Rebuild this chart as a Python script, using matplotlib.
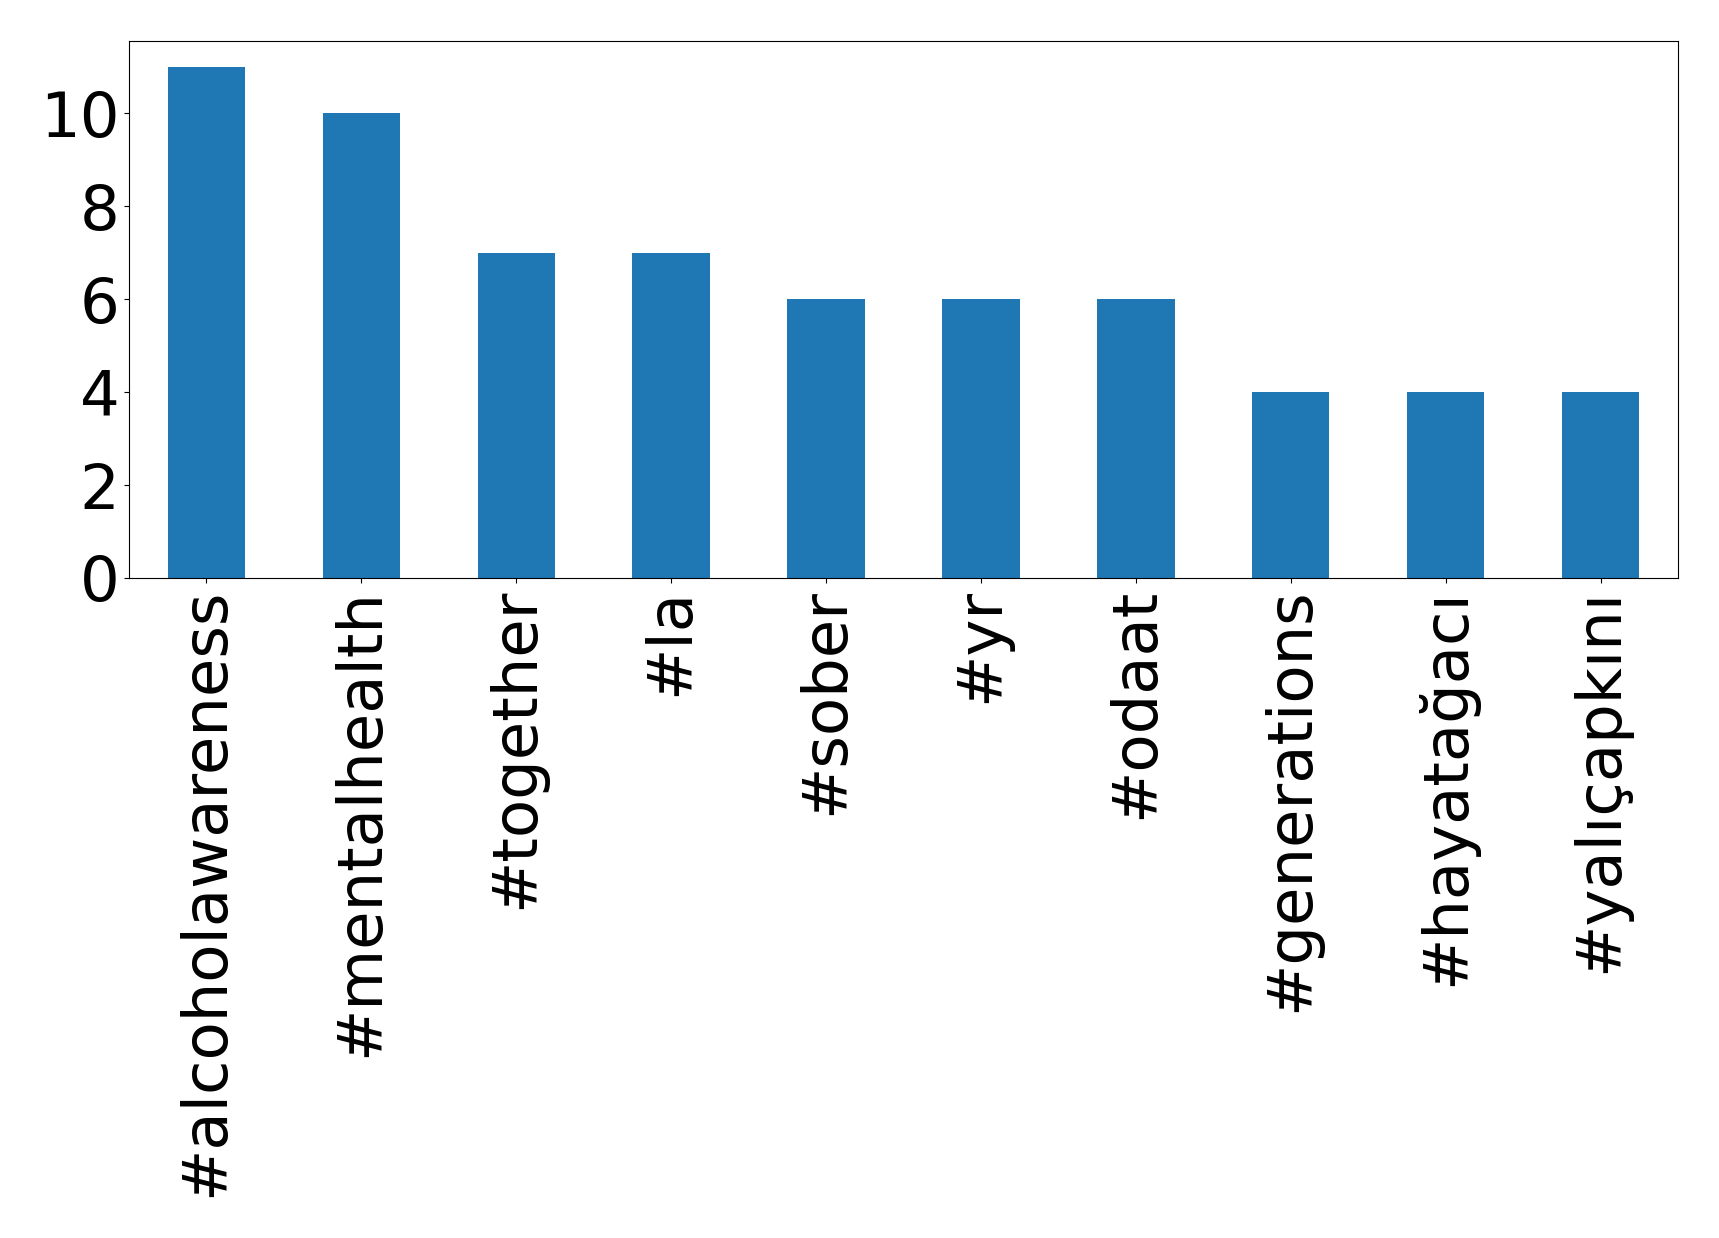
import matplotlib
matplotlib.use("Agg")
import matplotlib.pyplot as plt
from matplotlib.ticker import MultipleLocator
import pandas as pd

hashtags = ["#alcoholawareness", "#mentalhealth", "#together", "#la", "#sober",
            "#yr", "#odaat", "#generations", "#hayatağacı", "#yalıçapkını"]
counts = [11, 10, 7, 7, 6, 6, 6, 4, 4, 4]

fig = plt.figure(figsize=(17.19, 12.38), dpi=100)
ax = fig.add_axes([129/1719, 1 - 578/1238, (1678 - 129)/1719, (578 - 41)/1238])
s = pd.Series(counts, index=hashtags)
s.plot(kind="bar", ax=ax, color="#1f77b4", width=0.5)
ax.yaxis.set_major_locator(MultipleLocator(2))
ax.tick_params(axis="both", labelsize=45)
ax.set_xticklabels(hashtags, rotation=90)
fig.savefig("out.png", dpi=100)
